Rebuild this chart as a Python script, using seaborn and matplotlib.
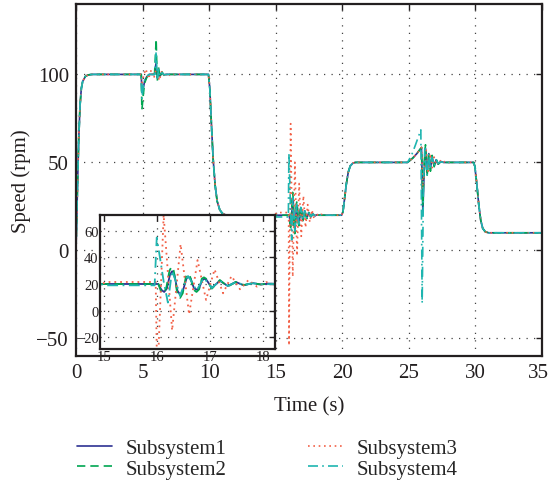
import numpy as np
import pandas as pd
import matplotlib
matplotlib.use("Agg")
import matplotlib.pyplot as plt
import matplotlib.transforms as mtransforms
import seaborn as sns

# ---------------- data ----------------
rise_t = [0.0, 0.1, 0.2, 0.3, 0.4, 0.5, 0.7, 0.9, 1.2]
rise_v = [0, 32, 62, 82, 92, 96, 98.8, 99.7, 100]

drop10_t = [9.95, 10.05, 10.15, 10.3, 10.45, 10.6, 10.8, 11.0, 11.3]
drop10_v = [100, 92, 75, 52, 37, 28, 23, 21, 20]

rise20_t = [19.95, 20.05, 20.15, 20.3, 20.45, 20.6, 20.8, 21.0]
rise20_v = [20, 22, 28, 37.5, 44.5, 48, 49.6, 50]

drop30_t = [29.85, 29.95, 30.1, 30.25, 30.4, 30.55, 30.75, 31.0, 35.0]
drop30_v = [50, 48, 38, 26, 17, 12.5, 10.5, 10, 10]

# Subsystem1 events
s1_ev5_t = [4.9, 4.95, 5.05, 5.15, 5.3, 5.5, 5.9, 6.0, 6.1, 6.2, 6.3, 6.45, 6.6, 6.8]
s1_ev5_v = [100, 90, 92, 96, 98.5, 100, 100, 106, 98, 102.5, 99, 101, 99.8, 100]
s1_ev16_t = [15.95, 16.02, 16.08, 16.13, 16.18, 16.24, 16.28, 16.32, 16.38, 16.43, 16.48,
             16.55, 16.59, 16.63, 16.69, 16.74, 16.79, 16.85, 16.89, 16.93, 17.03, 17.18,
             17.33, 17.48, 17.63, 17.8, 17.95, 18.1, 18.3]
s1_ev16_v = [20, 20, 15.5, 14, 16.5, 27, 29.6, 27.5, 15, 12, 14.5, 24, 25.3, 24, 17, 15.7,
             17, 23, 24, 23, 17, 22.5, 18.5, 21.5, 19, 20.7, 19.6, 20.3, 20]
s1_ev25_t = [24.9, 25.3, 25.6, 25.95, 26.05, 26.15, 26.25, 26.37, 26.5, 26.62, 26.75, 26.9,
             27.05, 27.2, 27.4, 27.6]
s1_ev25_v = [50, 52.5, 55, 58.5, 22, 45, 58, 44, 55, 46.5, 53, 48, 51.5, 49, 50.5, 50]

# Subsystem2 events
s2_ev5_t = [4.9, 4.95, 5.05, 5.15, 5.3, 5.5, 5.9, 6.02, 6.1, 6.2, 6.3, 6.45, 6.6, 6.8]
s2_ev5_v = [100, 80, 88, 95, 98, 100, 100, 120, 96, 104, 98, 101.5, 99.5, 100]
s2_ev16_t = [15.95, 16.02, 16.07, 16.12, 16.17, 16.23, 16.27, 16.31, 16.38, 16.43, 16.48,
             16.54, 16.58, 16.62, 16.69, 16.74, 16.79, 16.84, 16.88, 16.92, 17.03, 17.18,
             17.33, 17.48, 17.63, 17.8, 17.95, 18.1, 18.3]
s2_ev16_v = [20, 20, 14.5, 13, 17, 30, 33, 30, 12, 9.5, 13, 25.5, 27.5, 25.5, 15.5, 14,
             16, 24, 25, 24, 16.5, 23, 18, 21.5, 19.2, 20.6, 19.7, 20.2, 20]
s2_ev25_t = [24.9, 25.3, 25.6, 25.95, 26.05, 26.15, 26.25, 26.37, 26.5, 26.62, 26.75, 26.9,
             27.05, 27.2, 27.4, 27.6]
s2_ev25_v = [50, 52.5, 55, 58.5, 25, 50, 60, 42, 56, 45, 54, 47.5, 52, 49, 50.5, 50]

# Subsystem3 events
s3_ev5_t = [4.9, 4.95, 5.1, 5.25, 5.45, 5.65, 5.85, 6.05, 6.25, 6.45, 6.65, 6.85, 7.05, 7.3]
s3_ev5_v = [100, 95, 100, 103, 97.5, 102.5, 98, 104, 96.5, 102, 98.5, 101, 99.5, 100]
s3_ev16_t = [14.9, 15.1, 15.97, 16.0, 16.12, 16.28, 16.44, 16.6, 16.76, 16.92, 17.08, 17.24,
             17.4, 17.56, 17.72, 17.88, 18.05, 18.2, 18.4, 18.6]
s3_ev16_v = [20, 21.5, 21.5, -54, 72, -15, 50, -3, 38, 8, 31, 13, 26, 16, 23, 18, 21.5,
             19.5, 20.5, 20]
s3_ev25_t = [24.9, 25.3, 25.6, 25.95, 26.05, 26.15, 26.3, 26.45, 26.6, 26.75, 26.9, 27.1,
             27.3, 27.5, 27.7, 27.9]
s3_ev25_v = [50, 52.5, 55, 58.5, 35, 44, 57, 45, 55, 47, 53, 48.5, 51.5, 49.5, 50.5, 50]

# Subsystem4 events
s4_ev5_t = [4.9, 4.95, 5.05, 5.15, 5.3, 5.5, 5.9, 6.02, 6.1, 6.2, 6.3, 6.45, 6.6, 6.8]
s4_ev5_v = [100, 86, 93, 97, 99, 100, 100, 113, 97, 103, 99, 101, 99.8, 100]
s4_ev16_t = [14.9, 15.05, 15.95, 15.99, 16.05, 16.12, 16.2, 16.28, 16.35, 16.43, 16.5,
             16.58, 16.66, 16.74, 16.81, 16.88, 17.03, 17.18, 17.33, 17.48, 17.63, 17.8,
             18.0, 18.2]
s4_ev16_v = [20, 19, 19, 55, 40, 22, 6, 30, 22, 11, 19, 26, 21, 15, 20, 24.5, 17, 22.5,
             18.5, 21.3, 19.3, 20.5, 19.8, 20]
s4_ev25_t = [24.9, 25.2, 25.5, 25.9, 26.0, 26.1, 26.2, 26.35, 26.5, 26.62, 26.75, 26.9,
             27.05, 27.2, 27.4, 27.6]
s4_ev25_v = [50, 54, 60, 68.5, -30, 40, 58, 43, 55, 46, 53, 48, 51.5, 49.5, 50.3, 50]

labels = ["Subsystem1", "Subsystem2", "Subsystem3", "Subsystem4"]
colors = ["#2e3192", "#00a651", "#f26148", "#1fb5b0"]
styles = ["-", (0, (5, 3)), (0, (1, 2.2)), (0, (6, 2.5, 1, 2.5))]

events = {
    "Subsystem1": [(s1_ev5_t, s1_ev5_v), (s1_ev16_t, s1_ev16_v), (s1_ev25_t, s1_ev25_v)],
    "Subsystem2": [(s2_ev5_t, s2_ev5_v), (s2_ev16_t, s2_ev16_v), (s2_ev25_t, s2_ev25_v)],
    "Subsystem3": [(s3_ev5_t, s3_ev5_v), (s3_ev16_t, s3_ev16_v), (s3_ev25_t, s3_ev25_v)],
    "Subsystem4": [(s4_ev5_t, s4_ev5_v), (s4_ev16_t, s4_ev16_v), (s4_ev25_t, s4_ev25_v)],
}


def build(name):
    e5, e16, e25 = events[name]
    t = list(rise_t) + list(e5[0]) + list(drop10_t) + list(e16[0]) + list(rise20_t) \
        + list(e25[0]) + list(drop30_t)
    v = list(rise_v) + list(e5[1]) + list(drop10_v) + list(e16[1]) + list(rise20_v) \
        + list(e25[1]) + list(drop30_v)
    return pd.DataFrame({"Time": t, "Speed": v})


# ---------------- style ----------------
sns.set_theme(style="white")
plt.rcParams["font.family"] = ["Liberation Serif", "DejaVu Serif"]
plt.rcParams["axes.unicode_minus"] = True

FS = 15
TXT = "#231f20"

fig = plt.figure(figsize=(5.5, 4.89), dpi=100)
ax = fig.add_axes([76 / 550, 1 - 357 / 489, (542 - 76) / 550, (357 - 5) / 489])
axin = fig.add_axes([100 / 550, 1 - 350 / 489, (275 - 100) / 550, (350 - 216) / 489])

grid_kw = dict(color="#444444", linestyle=(0, (1, 5)), linewidth=0.9)

for name, c, ls in zip(labels, colors, styles):
    df = build(name)
    sns.lineplot(data=df, x="Time", y="Speed", ax=ax, color=c, linestyle=ls,
                 linewidth=1.2, estimator=None, sort=False, label=name, legend=False)
    sns.lineplot(data=df, x="Time", y="Speed", ax=axin, color=c, linestyle=ls,
                 linewidth=1.3, estimator=None, sort=False, legend=False)

handles = ax.get_lines()[:4]

ax.set_xlim(0, 35)
ax.set_ylim(-60, 140)
ax.set_xticks([0, 5, 10, 15, 20, 25, 30, 35])
ax.set_yticks([-50, 0, 50, 100])
ax.grid(True, **grid_kw)
ax.tick_params(direction="in", length=4, width=1, top=True, right=True,
               labelsize=FS, colors=TXT, pad=5)
for s in ax.spines.values():
    s.set_linewidth(1.6)
    s.set_color(TXT)
ax.set_xlabel("Time (s)", fontsize=FS, color=TXT, labelpad=10)
ax.set_ylabel("Speed (rpm)", fontsize=FS, color=TXT, labelpad=4)

# keep the last x tick label ("35") inside the canvas
fig.canvas.draw()
last_lbl = ax.get_xticklabels()[-1]
last_lbl.set_transform(last_lbl.get_transform() +
                       mtransforms.ScaledTranslation(-4 / 100, 0, fig.dpi_scale_trans))

axin.set_facecolor("white")
axin.set_xlim(14.92, 18.22)
axin.set_ylim(-29, 72)
axin.set_xticks([15, 16, 17, 18])
axin.set_yticks([-20, 0, 20, 40, 60])
axin.grid(True, **grid_kw)
axin.tick_params(direction="in", length=4, width=1, top=True, right=True,
                 labelsize=10.5, colors=TXT, pad=1)
for s in axin.spines.values():
    s.set_linewidth(1.6)
    s.set_color(TXT)
axin.set_xlabel("")
axin.set_ylabel("")

fig.legend(handles, labels, loc="upper left", bbox_to_anchor=(69 / 550, 1 - 431 / 489),
           ncol=2, frameon=False, fontsize=FS, handlelength=1.68, handletextpad=0.62,
           columnspacing=3.95, labelspacing=0.05, borderaxespad=0)

fig.savefig("out.png", dpi=100)
